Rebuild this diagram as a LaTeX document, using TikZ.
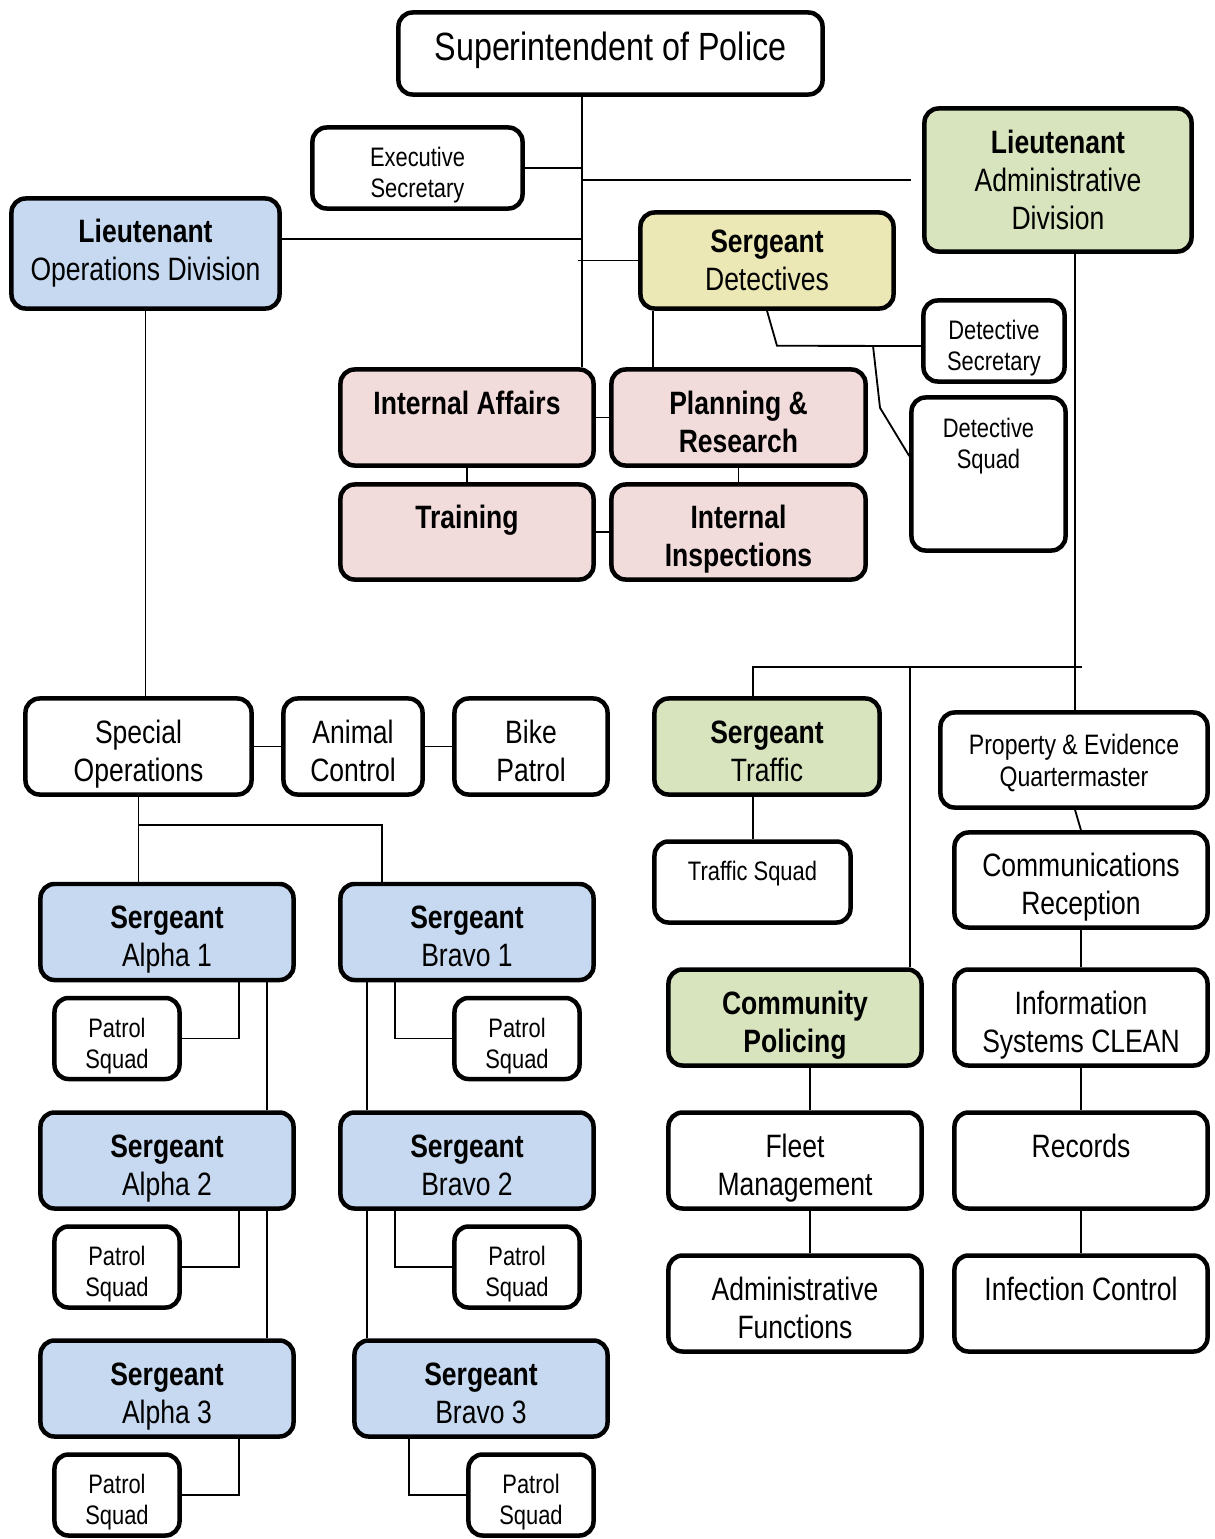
\documentclass[tikz,border=0pt]{standalone}
\usepackage{fontspec}
\setmainfont[FakeStretch=0.82]{Liberation Sans}
\usetikzlibrary{calc}

\definecolor{opsblue}{RGB}{198,217,241}
\definecolor{admingreen}{RGB}{215,228,189}
\definecolor{detyellow}{RGB}{235,232,181}
\definecolor{staffpink}{RGB}{242,220,219}

\tikzset{
  unit/.style={draw, line width=3.2pt, rounded corners=10pt, align=center, inner sep=1pt, text depth=0pt},
  big/.style={font=\fontsize{23}{27}\selectfont},
  small/.style={font=\fontsize{19}{22}\selectfont},
  bigpair/.style={big, text height=49.5pt},
  smallpair/.style={small, text height=42pt},
  wide/.style={minimum width=6.325cm, minimum height=2.4cm},
  sgtbox/.style={unit, bigpair, wide, fill=opsblue},
  patrol/.style={unit, smallpair, minimum width=3.125cm, minimum height=2.025cm},
  link/.style={line width=1.3pt}
}

\begin{document}
\begin{tikzpicture}[x=0.025cm, y=-0.025cm]
\useasboundingbox (0,0) rectangle (1215,1539);

\node[unit, text depth=10pt, minimum width=10.6cm, minimum height=2.05cm, font=\fontsize{28}{32}\selectfont] (superintendent) at (610.5,53.5) {Superintendent of Police};
\node[unit, smallpair, minimum width=5.25cm, minimum height=2.025cm] (execsec) at (417.5,168) {Executive\\Secretary};
\node[unit, big, fill=admingreen, minimum width=6.675cm, minimum height=3.575cm] (ltadmin) at (1058,180) {\textbf{Lieutenant}\\Administrative\\Division};
\node[unit, big, text depth=5pt, fill=opsblue, minimum width=6.7cm, minimum height=2.75cm] (ltops) at (145.5,253.5) {\textbf{Lieutenant}\\Operations Division};
\node[unit, big, wide, fill=detyellow] (sgtdet) at (767,260.5) {\textbf{Sergeant}\\Detectives};
\node[unit, smallpair, minimum width=3.525cm, minimum height=2.025cm] (detsec) at (994,341) {Detective\\Secretary};
\node[unit, small, minimum width=3.85cm, minimum height=3.825cm] (detsquad) at (988.5,474) {Detective\\Squad\\\mbox{}\\\mbox{}};

\node[unit, bigpair, wide, fill=staffpink] (intaff) at (467,417.5) {\textbf{Internal Affairs}\\\mbox{}};
\node[unit, bigpair, wide, fill=staffpink, minimum width=6.35cm] (planning) at (738.5,417.5) {\textbf{Planning \&}\\\textbf{Research}};
\node[unit, bigpair, wide, fill=staffpink, minimum height=2.375cm] (training) at (467,532) {\textbf{Training}\\\mbox{}};
\node[unit, bigpair, wide, fill=staffpink, minimum width=6.35cm, minimum height=2.375cm] (intinsp) at (738.5,532) {\textbf{Internal}\\\textbf{Inspections}};

\node[unit, bigpair, minimum width=5.65cm, minimum height=2.4cm] (specops) at (138.5,746.5) {Special\\Operations};
\node[unit, bigpair, minimum width=3.475cm, minimum height=2.4cm] (animal) at (353,746.5) {Animal\\Control};
\node[unit, bigpair, minimum width=3.825cm, minimum height=2.4cm] (bike) at (531,746.5) {Bike\\Patrol};
\node[unit, bigpair, fill=admingreen, minimum width=5.625cm, minimum height=2.4cm] (sgttraffic) at (767,746.5) {\textbf{Sergeant}\\Traffic};
\node[unit, font=\fontsize{20}{22.5}\selectfont, minimum width=6.675cm, minimum height=2.375cm] (property) at (1074,760) {Property \& Evidence\\Quartermaster};
\node[unit, smallpair, minimum width=4.9cm, minimum height=2.025cm] (trafficsquad) at (752.5,882) {Traffic Squad\\\mbox{}};
\node[unit, bigpair, wide, minimum height=2.375cm] (comm) at (1081,880) {Communications\\Reception};

\foreach \i/\y in {1/932,2/1160.5,3/1388.5} {
  \node[sgtbox] (alpha\i) at (167,\y) {\textbf{Sergeant}\\Alpha \i};
  \node[patrol] (patrolA\i) at (117,\y+106.5) {Patrol\\Squad};
}
\foreach \i/\x/\y in {1/467/932,2/467/1160.5,3/481/1388.5} {
  \node[sgtbox] (bravo\i) at (\x,\y) {\textbf{Sergeant}\\Bravo \i};
  \node[patrol] (patrolB\i) at (\x+50,\y+106.5) {Patrol\\Squad};
}

\node[unit, bigpair, wide, fill=admingreen] (community) at (795,1017.5) {\textbf{Community}\\\textbf{Policing}};
\node[unit, bigpair, wide] (info) at (1081,1017.5) {Information\\Systems CLEAN};
\node[unit, bigpair, wide] (fleet) at (795,1160.5) {Fleet\\Management};
\node[unit, bigpair, wide] (records) at (1081,1160.5) {Records\\\mbox{}};
\node[unit, bigpair, wide] (adminfunc) at (795,1303.5) {Administrative\\Functions};
\node[unit, bigpair, wide] (infection) at (1081,1303.5) {Infection Control\\\mbox{}};

% columns and rows the connectors run on
\coordinate (spine) at (582,0);
\coordinate (detdrop) at (653,0);
\coordinate (bravocol) at (382,0);
\coordinate (apatrol) at (239,0);
\coordinate (achain) at (267,0);
\coordinate (bchain) at (367,0);
\coordinate (acol) at (1075,0);
\coordinate (trafcol) at (753,0);
\coordinate (compcol) at (910,0);
\coordinate (fleetcol) at (810,0);
\coordinate (abar) at (0,667);
\coordinate (opsout) at ([yshift=0.3625cm]ltops.east);

\draw[link] (superintendent.south -| spine) -- (intaff.north -| spine);
\draw[link] (execsec) -- (execsec -| spine);
\draw[link] (ltadmin.west -| spine) -- ([xshift=-0.275cm]ltadmin.west);
\draw[link] (opsout) -- (opsout -| spine);
\draw[link, shorten >=-0.1cm] (sgtdet) -- (sgtdet -| spine);
\draw[link] (sgtdet.south -| detdrop) -- (planning.north -| detdrop);
\draw[link] (sgtdet.south) -- ++(10,35) coordinate (detbend) -- ([yshift=-0.125cm]detsec.west);
\draw[link] ($(detbend)+(96,0)$) -- ++(7,62) -- ([yshift=0.45cm]detsquad.west);

\draw[link] (intaff) -- (planning);
\draw[link] (intaff) -- (training);
\draw[link] (planning) -- (intinsp);
\draw[link] (training) -- (intinsp);

\draw[link] (ltops.south) -- (ltops.south |- specops.north);
\draw[link] (specops) -- (animal);
\draw[link] (animal) -- (bike);
\draw[link] (specops.south) -- ++(0,28) coordinate (squadfork) -| (bravo1.north -| bravocol);
\draw[link] (squadfork) -- (alpha1.north -| squadfork);

\foreach \i in {1,2,3}
  \draw[link] (alpha\i.south -| apatrol) |- (patrolA\i);
\foreach \i/\j in {1/2,2/3} {
  \draw[link] (alpha\i.south -| achain) -- (alpha\j.north -| achain);
  \draw[link] (bravo\i.south -| bchain) -- (bravo\j.north -| bchain);
}
\foreach \i/\c in {1/395,2/395,3/409} {
  \coordinate (bpat) at (\c,0);
  \draw[link] (bravo\i.south -| bpat) |- (patrolB\i);
}

\draw[link] (ltadmin.south -| acol) -- (property.north -| acol);
\draw[link, shorten >=-0.175cm] (sgttraffic.north -| trafcol) |- (abar -| acol);
\draw[link] (abar -| compcol) -- (community.north -| compcol);
\draw[link] (sgttraffic.south -| trafcol) -- (trafficsquad.north -| trafcol);
\draw[link] (property.south -| acol) -- (comm.north);
\draw[link] (comm) -- (info);
\draw[link] (info) -- (records);
\draw[link] (records) -- (infection);
\draw[link] (community.south -| fleetcol) -- (fleet.north -| fleetcol);
\draw[link] (fleet.south -| fleetcol) -- (adminfunc.north -| fleetcol);
\end{tikzpicture}
\end{document}
